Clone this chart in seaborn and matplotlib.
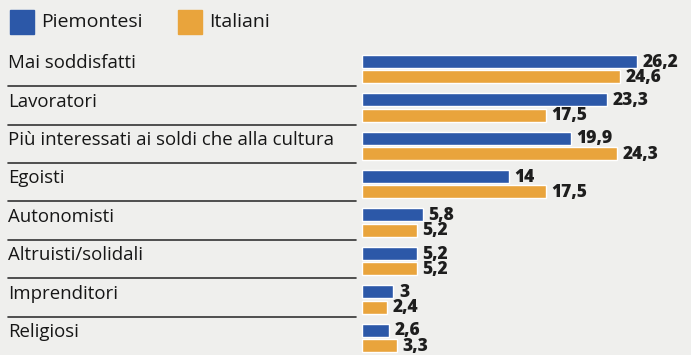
import matplotlib
matplotlib.use("Agg")
import matplotlib.pyplot as plt
import matplotlib.transforms as mtransforms
from matplotlib.patches import Rectangle
from matplotlib.lines import Line2D
import seaborn as sns
import pandas as pd

categories = ["Mai soddisfatti", "Lavoratori", "Più interessati ai soldi che alla cultura",
              "Egoisti", "Autonomisti", "Altruisti/solidali", "Imprenditori", "Religiosi"]
piemontesi = [26.2, 23.3, 19.9, 14, 5.8, 5.2, 3, 2.6]
italiani = [24.6, 17.5, 24.3, 17.5, 5.2, 5.2, 2.4, 3.3]
series = ["Piemontesi", "Italiani"]
colors = ["#2c58a8", "#e9a43c"]

df = pd.DataFrame({
    "categoria": categories * 2,
    "valore": piemontesi + italiani,
    "gruppo": [series[0]] * len(categories) + [series[1]] * len(categories),
})

W, H = 691, 355
bg = "#efefed"
sns.set_theme(style="white")
plt.rcParams["font.family"] = ["Open Sans", "DejaVu Sans"]

fig = plt.figure(figsize=(W / 100, H / 100), dpi=100, facecolor=bg)
ax = fig.add_axes([0, 0, 1, 1])
ax.set_facecolor(bg)

sns.barplot(data=df, y="categoria", x="valore", hue="gruppo", orient="h",
            palette=colors, hue_order=series, order=categories,
            width=0.8, gap=0.15, legend=False, ax=ax, saturation=1)

# pixel mapping
x0_px, px_per_unit = 362, 10.5
y0_px, px_per_cat = 69.0, 38.4
ax.set_xlim(-x0_px / px_per_unit, (W - x0_px) / px_per_unit)
ax.set_ylim((H - y0_px) / px_per_cat, -y0_px / px_per_cat)
ax.axis("off")

# value labels
for cont, vals in zip(ax.containers, [piemontesi, italiani]):
    for bar, v in zip(cont, vals):
        lab = f"{v:g}".replace(".", ",")
        ax.annotate(lab, (bar.get_width(), bar.get_y() + bar.get_height() / 2),
                    xytext=(4, -0.5), textcoords="offset points",
                    ha="left", va="center", fontsize=12.5, fontweight="heavy",
                    color="#1e1e1e")

# category labels and separators
trans = mtransforms.blended_transform_factory(ax.transAxes, ax.transData)
for i, c in enumerate(categories):
    ax.text(8 / W, i - 0.15, c, transform=trans, ha="left", va="center",
            fontsize=13.4, color="#161616")
    if i < len(categories) - 1:
        ax.add_line(Line2D([8 / W, 356 / W], [i + 0.45, i + 0.45], transform=trans,
                           color="#333333", lw=1.2))

# legend
legend_x = [10, 178]
for lx, s, col in zip(legend_x, series, colors):
    fig.patches.append(Rectangle((lx / W, 1 - 34 / H), 24 / W, 24 / H,
                                 transform=fig.transFigure, color=col))
    fig.text((lx + 31) / W, 1 - 22 / H, s, ha="left", va="center",
             fontsize=14, color="#161616")

fig.savefig("out.png", dpi=100, facecolor=bg)
